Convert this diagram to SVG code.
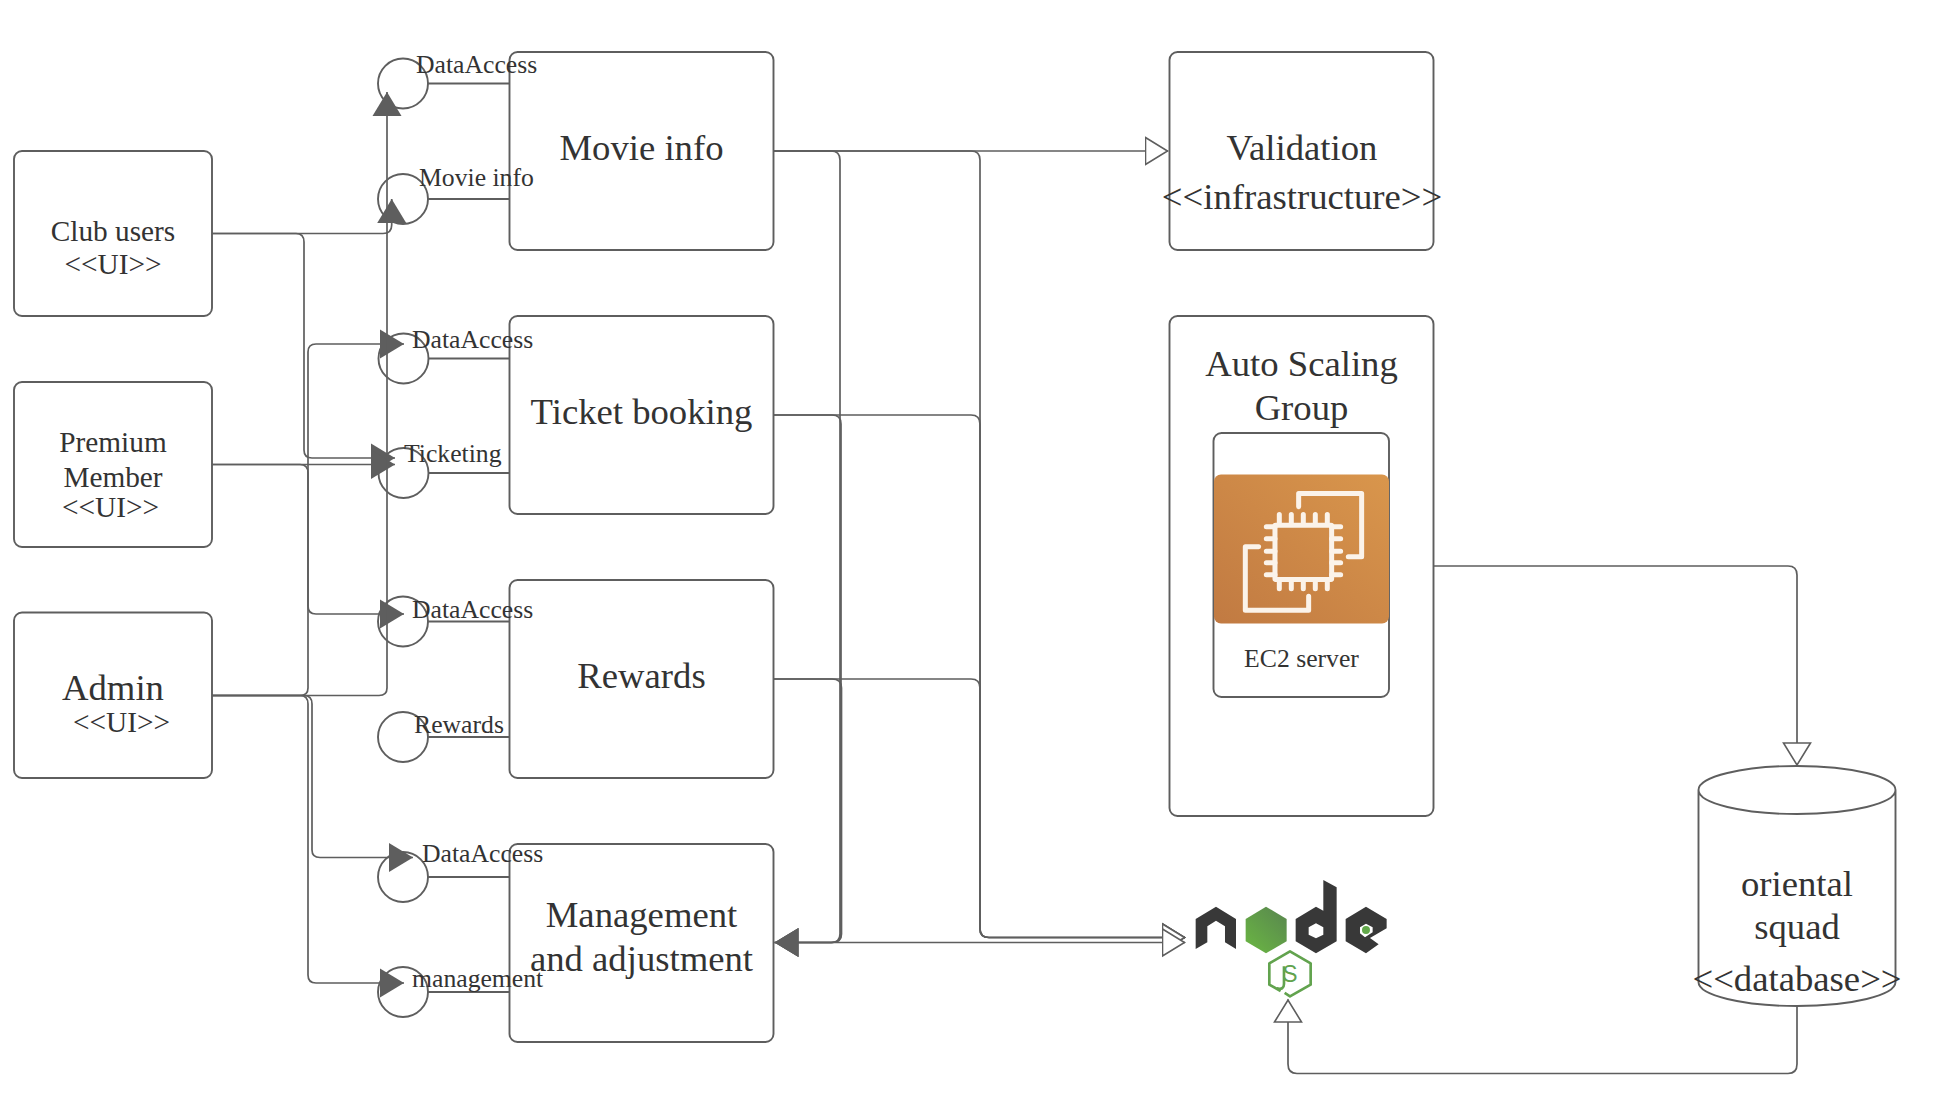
<svg xmlns="http://www.w3.org/2000/svg" width="1936" height="1114" viewBox="0 0 1936 1114">
<style>
text{font-family:"Liberation Serif","Times New Roman",serif;fill:#333;text-anchor:middle}
.box{fill:#fff;stroke:#5e5e5e;stroke-width:1.9}
.ln{fill:none;stroke:#5e5e5e;stroke-width:1.7}
.stub{fill:none;stroke:#5e5e5e;stroke-width:1.9}
.t37{font-size:36.7px}
.t29{font-size:29.3px}
.t27{font-size:25.7px}
.t26{font-size:25.7px}
.l{text-anchor:start}
.filled{marker-end:url(#fa)}
.hollow{marker-end:url(#ha)}
</style>
<defs>
<marker id="fa" markerUnits="userSpaceOnUse" markerWidth="25" markerHeight="30" refX="24" refY="15" orient="auto"><path d="M0 .5 L24 15 L0 29.500 Z" fill="#5e5e5e"/></marker>
<marker id="ha" markerUnits="userSpaceOnUse" markerWidth="26" markerHeight="32" refX="23.5" refY="16" orient="auto"><path d="M1 2.500 L23 16 L1 29.500 Z" fill="#fff" stroke="#5e5e5e" stroke-width="1.6"/></marker>
<linearGradient id="ec2g" x1="0" y1="1" x2="1" y2="0"><stop offset="0" stop-color="#c17a42"/><stop offset="1" stop-color="#d9964c"/></linearGradient>
<linearGradient id="ng" x1="0.200" y1="0.900" x2="0.900" y2="0.100"><stop offset="0" stop-color="#68b044"/><stop offset="1" stop-color="#5a8a4e"/></linearGradient>
</defs>

<g id="club-users"><rect class="box" x="14" y="151" width="198" height="165" rx="8"/><text class="t29" x="113" y="241">Club users</text><text class="t29" x="113" y="274">&lt;&lt;UI&gt;&gt;</text></g>
<g id="premium-member"><rect class="box" x="14" y="382" width="198" height="165" rx="8"/><text class="t29" x="113" y="452">Premium</text><text class="t29" x="113" y="487">Member</text><text class="t29" x="110.500" y="517">&lt;&lt;UI&gt;&gt;</text></g>
<g id="admin"><rect class="box" x="14" y="612.500" width="198" height="165.500" rx="8"/><text class="t37" x="113" y="700">Admin</text><text class="t29" x="121.500" y="732">&lt;&lt;UI&gt;&gt;</text></g>

<g id="movie-info"><rect class="box" x="509.500" y="52" width="264" height="198" rx="8"/><text class="t37" x="641.500" y="160">Movie info</text></g>
<g id="ticket-booking"><rect class="box" x="509.500" y="316" width="264" height="198" rx="8"/><text class="t37" x="641.500" y="424">Ticket booking</text></g>
<g id="rewards"><rect class="box" x="509.500" y="580" width="264" height="198" rx="8"/><text class="t37" x="641.500" y="688">Rewards</text></g>
<g id="management"><rect class="box" x="509.500" y="844" width="264" height="198" rx="8"/><text class="t37" x="641.500" y="927">Management</text><text class="t37" x="641.500" y="971">and adjustment</text></g>

<g id="iface-movie-data"><circle class="box" cx="403" cy="83.500" r="25"/><path class="stub" d="M428 83.500H510"/><text class="t27 l" x="416" y="73">DataAccess</text></g>
<g id="iface-movie-info"><circle class="box" cx="403" cy="199" r="25"/><path class="stub" d="M428 199H510"/><text class="t27 l" x="419" y="186">Movie info</text></g>
<g id="iface-ticket-data"><circle class="box" cx="403.500" cy="358.500" r="25"/><path class="stub" d="M428 358.500H510"/><text class="t27 l" x="412" y="348">DataAccess</text></g>
<g id="iface-ticketing"><circle class="box" cx="403.500" cy="473" r="25"/><path class="stub" d="M428 473H510"/><text class="t27 l" x="404" y="461.500">Ticketing</text></g>
<g id="iface-rewards-data"><circle class="box" cx="403" cy="621.500" r="25"/><path class="stub" d="M428 621.500H510"/><text class="t27 l" x="412" y="618">DataAccess</text></g>
<g id="iface-rewards"><circle class="box" cx="403" cy="737" r="25"/><path class="stub" d="M428 737H510"/><text class="t27 l" x="414" y="733">Rewards</text></g>
<g id="iface-mgmt-data"><circle class="box" cx="403" cy="877" r="25"/><path class="stub" d="M428 877H510"/><text class="t27 l" x="422" y="862">DataAccess</text></g>
<g id="iface-management"><circle class="box" cx="403" cy="992" r="25"/><path class="stub" d="M428 992H510"/><text class="t27 l" x="412" y="987">management</text></g>

<g id="validation"><rect class="box" x="1169.500" y="52" width="264" height="198" rx="8"/><text class="t37" x="1302" y="160">Validation</text><text class="t37" x="1302" y="209">&lt;&lt;infrastructure&gt;&gt;</text></g>

<g id="auto-scaling-group"><rect class="box" x="1169.500" y="316" width="264" height="500" rx="8"/><text class="t37" x="1301.500" y="376">Auto Scaling</text><text class="t37" x="1301.500" y="420">Group</text></g>
<g id="ec2-server"><rect class="box" x="1213.500" y="433" width="175.500" height="264" rx="8"/>
<rect x="1214" y="474.500" width="175" height="149" rx="7" fill="url(#ec2g)"/>
<g transform="translate(1100 299.500) scale(.3333)" fill="none" stroke="#fbf3ea" stroke-width="15" stroke-linejoin="round" stroke-linecap="round">
<path d="M596 622V582H785V772H745"/><path d="M476 742H436V932H626V890"/>
<rect x="525" y="677" width="170" height="163" rx="2"/>
<path d="M538 645V675M574 645V675M610 645V675M646 645V675M682 645V675M538 840V868M574 840V868M610 840V868M646 840V868M682 840V868M499 682H525M499 718H525M499 755H525M499 790H525M499 826H525M695 682H722M695 718H722M695 755H722M695 790H722M695 826H722"/>
</g>
<text class="t26" x="1301.500" y="667">EC2 server</text></g>

<g id="nodejs"><g transform="translate(1180 869) scale(.3333)">
<path fill="#383838" d="M47 150L108 113L168 150V240L135 220V172L108 155L82 172V220L47 240Z"/>
<path fill="url(#ng)" d="M258 113L320 150V217L258 253L197 217V150Z"/>
<path fill="#383838" fill-rule="evenodd" d="M430 33L470 55V217L408 253L347 217V150L408 113L430 125ZM408 163L386 175V197L408 208L430 197V175Z"/>
<path fill="#383838" fill-rule="evenodd" d="M558 113L620 150V178L570 207L596 226L558 253L497 217V150ZM558 164L540 175V193L555 205L578 190V175Z"/>
<circle cx="558" cy="183" r="12" fill="#62a84a"/>
<path fill="none" stroke="#62a34e" stroke-width="8" stroke-linejoin="round" d="M302 366L268 347V283L330 247L392 283V347L330 382L314 372"/>
<path fill="none" stroke="#62a34e" stroke-width="8" stroke-linejoin="round" d="M312 292V345Q312 364 290 358"/>
</g>
<text x="1290" y="982" font-size="23" textLength="15" lengthAdjust="spacingAndGlyphs" style="font-family:'Liberation Sans',Arial,sans-serif;fill:#62a34e">S</text></g>

<g id="database"><path class="box" d="M1698.500 790V982A98.500 24 0 0 0 1895.500 982V790A98.500 24 0 0 0 1698.500 790A98.500 24 0 0 0 1895.500 790"/><text class="t37" x="1797" y="896">oriental</text><text class="t37" x="1797" y="939">squad</text><text class="t37" x="1797" y="991">&lt;&lt;database&gt;&gt;</text></g>

<g id="connectors">
<path class="ln filled" d="M212 233.500H383Q391.700 233.500 391.700 225V199"/>
<path class="ln filled" d="M212 233.500H296Q304 233.500 304 242V450Q304 458 312 458H395"/>
<path class="ln filled" d="M212 464.500H395"/>
<path class="ln" d="M212 464.500H300Q308 464.500 308 473V606"/>
<path class="ln filled" d="M308 606Q308 614 316 614H404"/>
<path class="ln filled" d="M212 695.500H300Q308 695.500 308 688V352Q308 344 316 344H404"/>
<path class="ln filled" d="M212 695.500H379Q387 695.500 387 688V92"/>
<path class="ln filled" d="M212 695.500H304Q312 695.500 312 704V850Q312 857.500 320 857.500H413"/>
<path class="ln filled" d="M212 695.500H300Q308 695.500 308 704V975Q308 983 316 983H404"/>

<path class="ln hollow" d="M774 151H1168"/>
<path class="ln filled" d="M774 151H831Q840 151 840 160V934Q840 942.500 831 942.500H774.500"/>
<path class="ln hollow" d="M774 151H971Q980 151 980 160V929Q980 937.500 989 937.500H1185"/>
<path class="ln filled" d="M774 415H832Q841 415 841 424V934Q841 942.500 832 942.500H774.500"/>
<path class="ln hollow" d="M774 415H971Q980 415 980 424V929Q980 937.500 989 937.500H1185"/>
<path class="ln filled" d="M774 679H832Q841.500 679 841.500 688V934Q841.500 942.500 832 942.500H774.500"/>
<path class="ln hollow" d="M774 679H971Q980 679 980 688V929Q980 937.500 989 937.500H1185"/>
<path class="ln hollow" d="M798 942.500H1185"/>

<path class="ln hollow" d="M1433.500 566H1788Q1797 566 1797 575V765.500"/>
<path class="ln hollow" d="M1797 1006V1064Q1797 1073.500 1788 1073.500H1297Q1288 1073.500 1288 1064V999.500"/>
</g>
</svg>
